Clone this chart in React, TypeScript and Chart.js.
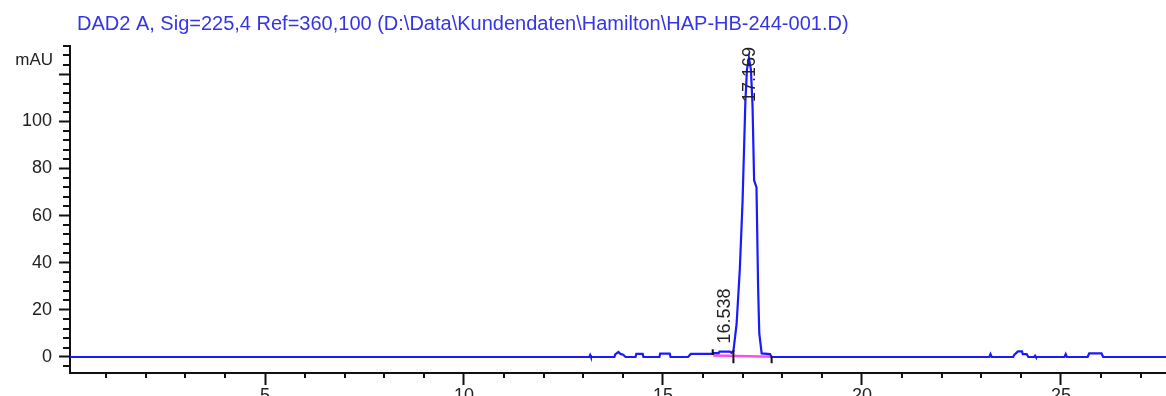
import React, { useEffect, useRef } from 'react';
import { Chart, registerables } from 'chart.js';

Chart.register(...registerables);

// ---------- text ----------
const titleText = 'DAD2 A, Sig=225,4 Ref=360,100 (D:\\Data\\Kundendaten\\Hamilton\\HAP-HB-244-001.D)';
const yUnit = 'mAU';

// ---------- signal trace (retention time in min, absorbance in mAU) ----------
const traceTimes = [
  0, 13.15, 13.17, 13.19, 13.78, 13.8, 13.88, 13.93, 14.0, 14.06,
  14.31, 14.33, 14.49, 14.51, 14.91, 14.93, 15.17, 15.19, 15.63, 15.7,
  16.25, 16.27, 16.4, 16.42, 16.68, 16.72, 16.77, 16.85, 16.93, 17.0,
  17.07, 17.11, 17.16, 17.21, 17.25, 17.29, 17.35, 17.39, 17.42, 17.48,
  17.69, 17.73, 23.2, 23.23, 23.26, 23.8, 23.83, 23.92, 24.02, 24.04,
  24.14, 24.18, 24.33, 24.35, 24.37, 25.09, 25.12, 25.15, 25.67, 25.71,
  26.02, 26.06, 27.7,
];
const traceValues = [
  0, 0, 0.8, 0, 0, 1.1, 2.1, 1.3, 1.0, 0,
  0, 1.3, 1.3, 0, 0, 1.4, 1.4, 0, 0, 1.3,
  1.3, 1.6, 1.6, 2.3, 2.3, 1.8, 2.5, 14, 37, 66,
  108, 122, 127, 122, 107, 75, 72, 30, 10, 1.5,
  1.2, 0, 0, 1.2, 0, 0, 1.0, 2.4, 2.4, 1.2,
  1.2, 0, 0, 0.5, 0, 0, 1.2, 0, 0, 1.5,
  1.5, 0, 0,
];

// ---------- integration baseline ----------
const baselineTimes = [16.26, 17.73];
const baselineValues = [0.6, 0.1];

// ---------- integration start / end markers ----------
const markerTimes = [16.25, 16.77, 17.73];
const markerTops = [3.3, 3.0, 0.3];
const markerBottoms = [0.8, -2.7, -2.7];

// ---------- peak annotations ----------
const peakTimes = [16.538, 17.169];
const peakLabels = ['16.538', '17.169'];
const peakHeights = [2.3, 127];

// ---------- axes ----------
const xMin = 0.1;
const xMax = 27.64;
const yMin = -6.8;
const yMax = 132;
const xMajorStep = 5;
const xMinorStep = 1;
const yMajorStep = 20;
const yMinorStep = 4;

const FONT = '"Liberation Sans", Arial, sans-serif';
const AXIS = '#111111';
const TEXT = '#222222';

const overlayPlugin = {
  id: 'overlay',
  afterDraw(chart: any) {
    const { ctx, chartArea, scales } = chart;
    const xs = scales.x;
    const ys = scales.y;
    ctx.save();
    // minor ticks
    ctx.strokeStyle = AXIS;
    ctx.lineWidth = 2;
    ctx.beginPath();
    ys.ticks.forEach((t: any) => {
      if (t.value % yMajorStep !== 0) {
        const y = Math.round(ys.getPixelForValue(t.value));
        ctx.moveTo(chartArea.left - 7, y);
        ctx.lineTo(chartArea.left, y);
      }
    });
    xs.ticks.forEach((t: any) => {
      if (t.value % xMajorStep !== 0) {
        const x = Math.round(xs.getPixelForValue(t.value));
        ctx.moveTo(x, chartArea.bottom);
        ctx.lineTo(x, chartArea.bottom + 5);
      }
    });
    ctx.stroke();

    // title
    ctx.fillStyle = '#3535e8';
    ctx.font = `20px ${FONT}`;
    ctx.textAlign = 'left';
    ctx.textBaseline = 'alphabetic';
    ctx.fillText(titleText, 77, 30);

    // unit label
    ctx.fillStyle = TEXT;
    ctx.font = `17px ${FONT}`;
    ctx.textAlign = 'right';
    ctx.textBaseline = 'middle';
    ctx.fillText(yUnit, 53, ys.getPixelForValue(126));

    // peak labels
    ctx.font = `18px ${FONT}`;
    peakTimes.forEach((t, i) => {
      const w = ctx.measureText(peakLabels[i]).width;
      let bottom = ys.getPixelForValue(peakHeights[i]) - 8;
      if (bottom - w < chartArea.top + 1) bottom = chartArea.top + 1 + w;
      ctx.save();
      ctx.translate(xs.getPixelForValue(t) + 1, bottom);
      ctx.rotate(-Math.PI / 2);
      ctx.textAlign = 'left';
      ctx.textBaseline = 'middle';
      ctx.fillText(peakLabels[i], 0, 0);
      ctx.restore();
    });
    ctx.restore();
  },
};

export default function App() {
  const ref = useRef<HTMLCanvasElement>(null);

  useEffect(() => {
    const trace = traceTimes.map((t, i) => ({ x: t, y: traceValues[i] }));
    const baseline = baselineTimes.map((t, i) => ({ x: t, y: baselineValues[i] }));
    const markers: any[] = [];
    markerTimes.forEach((t, i) => {
      markers.push({ x: t, y: markerTops[i] });
      markers.push({ x: t, y: markerBottoms[i] });
      markers.push({ x: t, y: null });
    });

    const chart = new Chart(ref.current as HTMLCanvasElement, {
      type: 'line',
      data: {
        datasets: [
          {
            data: markers,
            borderColor: AXIS,
            borderWidth: 2,
            pointRadius: 0,
            spanGaps: false,
            order: 0,
          },
          {
            data: trace,
            borderColor: '#1a1aff',
            borderWidth: 2.2,
            pointRadius: 0,
            tension: 0,
            order: 1,
          },
          {
            data: baseline,
            borderColor: '#ff4de6',
            borderWidth: 2.5,
            pointRadius: 0,
            order: 2,
          },
        ],
      },
      options: {
        animation: false,
        responsive: false,
        events: [],
        layout: { padding: { top: 46, left: 0, right: 0, bottom: 0 } },
        plugins: { legend: { display: false }, tooltip: { enabled: false }, title: { display: false } },
        scales: {
          x: {
            type: 'linear',
            min: xMin,
            max: xMax,
            afterFit: (s: any) => { s.height = 23; },
            border: { display: true, color: AXIS, width: 2 },
            grid: {
              display: true,
              drawOnChartArea: false,
              drawTicks: true,
              tickLength: 12,
              tickWidth: 2,
              tickColor: (c: any) => (c.tick && c.tick.value % xMajorStep === 0 ? AXIS : 'rgba(0,0,0,0)'),
            },
            ticks: {
              stepSize: xMinorStep,
              autoSkip: false,
              includeBounds: false,
              maxRotation: 0,
              minRotation: 0,
              padding: 0,
              color: TEXT,
              font: { family: FONT, size: 18 },
              callback: (v: any) => (Number(v) % xMajorStep === 0 ? String(v) : ''),
            },
          },
          y: {
            type: 'linear',
            min: yMin,
            max: yMax,
            afterFit: (s: any) => { s.width = 70; },
            border: { display: true, color: AXIS, width: 2 },
            grid: {
              display: true,
              drawOnChartArea: false,
              drawTicks: true,
              tickLength: 11,
              tickWidth: 2,
              tickColor: (c: any) => (c.tick && c.tick.value % yMajorStep === 0 ? AXIS : 'rgba(0,0,0,0)'),
            },
            ticks: {
              stepSize: yMinorStep,
              autoSkip: false,
              includeBounds: false,
              padding: 7,
              color: TEXT,
              font: { family: FONT, size: 18 },
              callback: (v: any) => (Number(v) % yMajorStep === 0 && Number(v) <= 100 ? String(v) : ''),
            },
          },
        },
      },
      plugins: [overlayPlugin],
    } as any);

    return () => chart.destroy();
  }, []);

  return (
    <div style={{ position: 'absolute', left: 0, top: 0, width: 1166, height: 396, background: '#fff' }}>
      <canvas ref={ref} width={1166} height={396} style={{ width: '1166px', height: '396px', display: 'block' }} />
    </div>
  );
}
